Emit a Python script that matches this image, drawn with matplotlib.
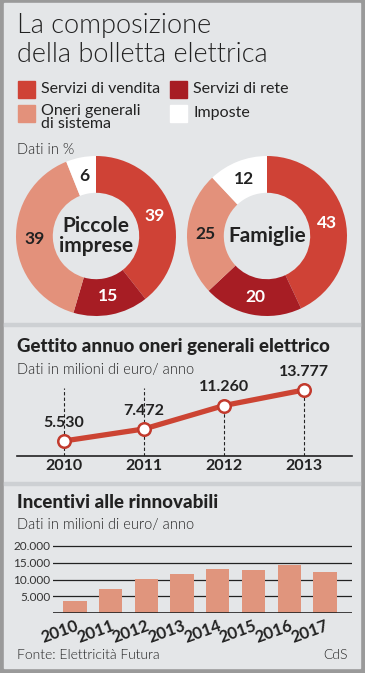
import matplotlib
matplotlib.use("Agg")
import numpy as np
import matplotlib.pyplot as plt
from matplotlib.patches import Rectangle

# donut data (percent)
legend_labels = ["Servizi di vendita", "Servizi di rete", "Oneri generali\ndi sistema", "Imposte"]
piccole = [39, 15, 39, 6]
famiglie = [43, 20, 25, 12]

# gettito annuo oneri generali
gettito_years = [2010, 2011, 2012, 2013]
gettito = [5530, 7472, 11260, 13777]
gettito_lbl = ["5.530", "7.472", "11.260", "13.777"]

# incentivi alle rinnovabili
inc_years = ["2010", "2011", "2012", "2013", "2014", "2015", "2016", "2017"]
incentivi = [3600, 7300, 10100, 11500, 13200, 12900, 14400, 12300]
inc_ticks = [5000, 10000, 15000, 20000]
inc_ticklbl = ["5.000", "10.000", "15.000", "20.000"]

W, H = 365, 673
BG = "#e4e6e8"
DARK = "#222222"
C_VEND, C_RETE, C_ONERI, C_IMP = "#cf4236", "#a71d24", "#e3917b", "#ffffff"
colors = [C_VEND, C_RETE, C_ONERI, C_IMP]
FONT = "Lato"

fig = plt.figure(figsize=(W / 100, H / 100), dpi=100)
fig.patch.set_facecolor("#9a9a9a")


def box(x0, y0, x1, y1):
    # pixel box (top-left origin) -> figure fraction rect
    return [x0 / W, 1 - y1 / H, (x1 - x0) / W, (y1 - y0) / H]


def T(x, y, s, **kw):
    kw.setdefault("family", FONT)
    kw.setdefault("color", DARK)
    kw.setdefault("va", "center")
    fig.text(x / W, 1 - y / H, s, **kw)


def rect(x0, y0, w, h, c, z):
    fig.patches.append(Rectangle((x0 / W, 1 - (y0 + h) / H), w / W, h / H,
                                 transform=fig.transFigure, color=c, zorder=z))


# inner panel and separators
rect(4, 3, 356, 665, BG, -10)
for sy in (323, 482):
    rect(4, sy, 356, 3, "#cdd0d3", -9)

# title
T(17, 26, "La composizione", fontsize=19.5, weight=300)
T(17, 55, "della bolletta elettrica", fontsize=19.5, weight=300)

# legend
leg_pos = [(18, 89), (170, 89), (18, 113), (170, 113)]
for (lx, ly), lab, c in zip(leg_pos, legend_labels, colors):
    rect(lx, ly - 8, 17, 17, c, -5)
    if "\n" in lab:
        T(lx + 23, ly - 9, lab, fontsize=11.5, va="top", linespacing=0.92)
    else:
        T(lx + 23, ly, lab, fontsize=11.5)

T(17, 150, "Dati in %", fontsize=10.5, weight=300)


def donut(cx, cy, vals, center_txt):
    r = 80
    ax = fig.add_axes(box(cx - r, cy - r, cx + r, cy + r))
    ax.set_aspect("equal")
    ax.axis("off")
    ax.pie(vals, colors=colors, startangle=90, counterclock=False,
           radius=1.0, wedgeprops=dict(width=0.46, linewidth=0))
    tot = sum(vals)
    ang = 90
    for v, c in zip(vals, colors):
        mid = ang - 360 * v / tot / 2
        ang -= 360 * v / tot
        tc = "white" if c in (C_VEND, C_RETE) else DARK
        ax.text(0.77 * np.cos(np.radians(mid)), 0.77 * np.sin(np.radians(mid)), str(v),
                ha="center", va="center", fontsize=12.5, weight="bold", color=tc, family=FONT)
    ax.text(0, 0, center_txt, ha="center", va="center", fontsize=15, weight="bold",
            color=DARK, family=FONT, linespacing=0.95)
    ax.set_xlim(-1, 1)
    ax.set_ylim(-1, 1)


donut(96, 236, piccole, "Piccole\nimprese")
donut(267, 236, famiglie, "Famiglie")

# line chart
T(17, 347, "Gettito annuo oneri generali elettrico", fontsize=13.5, weight=900)
T(17, 370, "Dati in milioni di euro/ anno", fontsize=10.5, weight=300)

pxu = 51 / (13777 - 5530)  # pixels per unit
y_axis = 3100
ax2 = fig.add_axes(box(17, 376, 352, 456))
ax2.set_xlim(2010 - 47 / 80, 2013 + 48 / 80)
ax2.set_ylim(y_axis, y_axis + 80 / pxu)
ax2.axis("off")
ax2.axhline(y_axis, color=DARK, lw=1.2, clip_on=False)
top_dash = y_axis + 68 / pxu
for i, (x, v) in enumerate(zip(gettito_years, gettito)):
    top = top_dash if i < 2 else v
    ax2.plot([x, x], [y_axis, top], ls=(0, (3, 2)), color=DARK, lw=0.8, zorder=1)
ax2.plot(gettito_years, gettito, color="#cc4433", lw=3.8, zorder=2,
         marker="o", ms=9, mfc="white", mec="#c23a2d", mew=1.8, clip_on=False)
for x, v, s in zip(gettito_years, gettito, gettito_lbl):
    ax2.annotate(s, (x, v), xytext=(0, 13), textcoords="offset points", ha="center",
                 va="center", fontsize=11.5, weight="bold", color=DARK, family=FONT,
                 zorder=3)
    ax2.annotate(str(x), (x, y_axis), xytext=(0, -7.5), textcoords="offset points",
                 ha="center", va="center", fontsize=11.5, weight="bold", color=DARK,
                 family=FONT, annotation_clip=False)

# bar chart
T(17, 502, "Incentivi alle rinnovabili", fontsize=13.5, weight=900)
T(17, 525, "Dati in milioni di euro/ anno", fontsize=10.5, weight=300)

ax3 = fig.add_axes(box(53, 540, 352, 613))
sp = 35.7
ax3.set_xlim(-22 / sp, (352 - 75) / sp)
ax3.set_ylim(0, 20000 + 6 * 20000 / 67)
for s_ in ax3.spines.values():
    s_.set_visible(False)
ax3.set_facecolor("none")
for t in inc_ticks:
    ax3.axhline(t, color=DARK, lw=0.9, zorder=1)
ax3.axhline(0, color=DARK, lw=1.2, zorder=3)
ax3.bar(range(len(inc_years)), incentivi, width=0.65, color="#e0957d", zorder=2)
ax3.set_yticks(inc_ticks)
ax3.set_yticklabels(inc_ticklbl, fontsize=8.5, family=FONT, color="#333333")
ax3.tick_params(axis="y", length=0, pad=2)
ax3.set_xticks(range(len(inc_years)))
ax3.set_xticklabels(inc_years, rotation=20, ha="right", rotation_mode="anchor",
                    fontsize=12, weight="bold", family=FONT, color=DARK)
ax3.tick_params(axis="x", length=0, pad=3)

T(17, 655, "Fonte: Elettricità Futura", fontsize=10, weight=300)
T(348, 655, "CdS", fontsize=10, weight=300, ha="right")

fig.savefig("out.png", dpi=100, facecolor=fig.get_facecolor())
